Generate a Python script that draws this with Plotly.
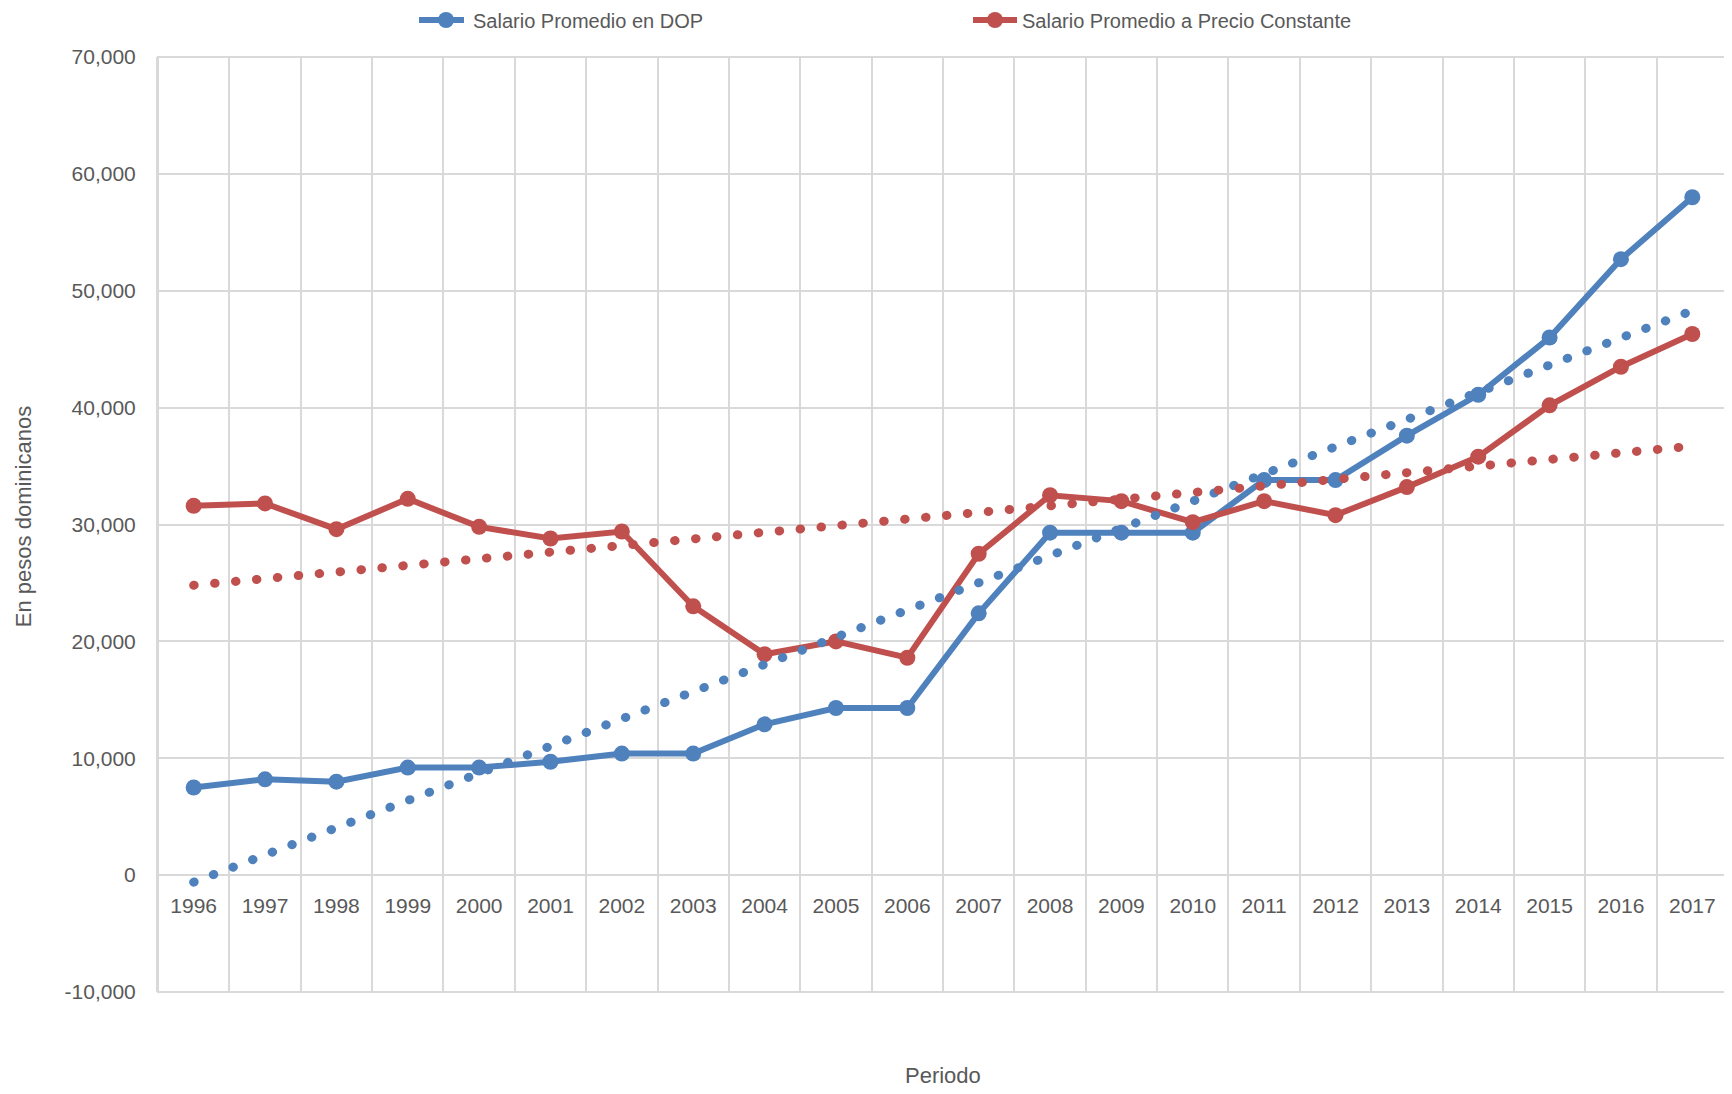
import plotly.graph_objects as go

years = [str(y) for y in range(1996, 2018)]
salario_dop = [7500, 8200, 8000, 9200, 9200, 9700, 10400, 10400, 12900, 14300, 14300,
               22400, 29300, 29300, 29300, 33800, 33800, 37600, 41100, 46000, 52700, 58000]
salario_constante = [31600, 31800, 29600, 32200, 29800, 28800, 29400, 23000, 18900, 20000, 18600,
                     27500, 32500, 32000, 30200, 32000, 30800, 33200, 35800, 40200, 43500, 46300]
trend_years = ["1996", "2017"]
trend_dop = [-600, 48300]
trend_constante = [24800, 36700]

y_ticks = list(range(-10000, 70001, 10000))
y_ticktext = [f"{v:,}" for v in y_ticks]

BLUE = "#4F81BD"
RED = "#C0504D"
GRID = "#D9D9D9"
FONT = "Liberation Sans Narrow, Arial Narrow, Liberation Sans, Arial, sans-serif"
TXT = "#595959"

fig = go.Figure()
fig.add_trace(go.Scatter(x=years, y=salario_dop, mode="lines+markers",
                         name="Salario Promedio en DOP",
                         line=dict(color=BLUE, width=6), marker=dict(size=16, color=BLUE),
                         legend="legend"))
fig.add_trace(go.Scatter(x=years, y=salario_constante, mode="lines+markers",
                         name="Salario Promedio a Precio Constante",
                         line=dict(color=RED, width=6), marker=dict(size=16, color=RED),
                         legend="legend2"))
fig.add_trace(go.Scatter(x=trend_years, y=trend_dop, mode="lines", showlegend=False,
                         line=dict(color=BLUE, width=9, dash="0.5px,20.5px"), hoverinfo="skip"))
fig.add_trace(go.Scatter(x=trend_years, y=trend_constante, mode="lines", showlegend=False,
                         line=dict(color=RED, width=9, dash="0.5px,20.5px"), hoverinfo="skip"))

# page has an 8px body margin; figure coords = page coords - 8
W, H = 1724, 1086
L, R, T, B = 150, 2, 49, 102
pw = W - L - R
ph = H - T - B

fig.update_layout(
    width=W, height=H,
    margin=dict(l=L, r=R, t=T, b=B),
    paper_bgcolor="white", plot_bgcolor="white",
    font=dict(family=FONT, size=21, color=TXT),
    showlegend=True,
    legend=dict(orientation="h", xref="container", yref="container",
                x=411 / W, y=1 - 12 / H, xanchor="left", yanchor="middle", itemwidth=44,
                font=dict(family=FONT, size=20, color=TXT), bgcolor="rgba(0,0,0,0)"),
    legend2=dict(orientation="h", xref="container", yref="container",
                 x=960 / W, y=1 - 12 / H, xanchor="left", yanchor="middle", itemwidth=44,
                 font=dict(family=FONT, size=20, color=TXT), bgcolor="rgba(0,0,0,0)"),
    xaxis=dict(type="category", categoryorder="array", categoryarray=years,
               range=[-0.5, 21.5], anchor="free", position=0.125,
               tickson="boundaries", showgrid=True, gridcolor=GRID, gridwidth=2,
               ticks="", showline=False, zeroline=False, ticklabelstandoff=16,
               tickfont=dict(family=FONT, size=21, color=TXT)),
    yaxis=dict(range=[-10000, 70000], tickvals=y_ticks, ticktext=y_ticktext,
               showgrid=True, gridcolor=GRID, gridwidth=2, zeroline=False,
               showline=True, linecolor=GRID, linewidth=2, mirror=True,
               ticks="", ticklabelstandoff=16,
               tickfont=dict(family=FONT, size=21, color=TXT)),
    shapes=[dict(type="rect", xref="paper", yref="paper", x0=0, x1=1, y0=0, y1=1,
                 line=dict(color=GRID, width=2), fillcolor="rgba(0,0,0,0)", layer="below")],
    annotations=[
        dict(text="En pesos dominicanos", xref="paper", yref="paper",
             x=(16 - L) / pw, y=(H - B - 509) / ph, xanchor="center", yanchor="middle",
             textangle=-90, showarrow=False, font=dict(family=FONT, size=22, color=TXT)),
        dict(text="Periodo", xref="paper", yref="paper",
             x=(936 - L) / pw, y=(H - B - 1067) / ph, xanchor="center", yanchor="middle",
             showarrow=False, font=dict(family=FONT, size=22, color=TXT)),
    ],
)

post = """
var gd = document.getElementById('{plot_id}');
gd.querySelectorAll('.scatterlayer path.js-line').forEach(function(p){
  var d = p.style.strokeDasharray;
  if (d && d !== 'none' && d !== '') { p.style.strokeLinecap = 'round'; }
});
gd.querySelectorAll('.legend path.js-line').forEach(function(p){
  p.setAttribute('d', 'M-5,0h50');
});
"""
fig.write_html("out.html", post_script=post)
